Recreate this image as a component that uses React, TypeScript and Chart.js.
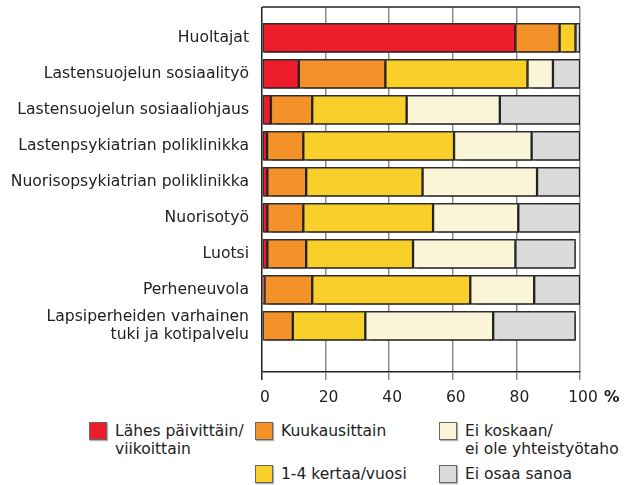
import React, { useEffect, useRef } from 'react';
import { Chart, registerables } from 'chart.js';

Chart.register(...registerables);

const CATEGORIES: (string | string[])[] = [
  'Huoltajat',
  'Lastensuojelun sosiaalityö',
  'Lastensuojelun sosiaaliohjaus',
  'Lastenpsykiatrian poliklinikka',
  'Nuorisopsykiatrian poliklinikka',
  'Nuorisotyö',
  'Luotsi',
  'Perheneuvola',
  ['Lapsiperheiden varhainen', 'tuki ja kotipalvelu'],
];

const WEEKLY = [79.7, 11.6, 2.8, 1.6, 1.7, 1.7, 1.7, 0.8, 0];
const MONTHLY = [13.9, 27.2, 13.0, 11.4, 12.2, 11.3, 12.2, 15.0, 9.7];
const YEARLY = [5.0, 44.7, 29.7, 47.4, 36.6, 40.8, 33.6, 49.7, 22.8];
const NEVER = [0, 8.0, 29.3, 24.4, 36.0, 26.8, 32.2, 20.1, 40.2];
const DONT_KNOW = [1.4, 8.5, 25.2, 15.2, 13.5, 19.4, 18.9, 14.4, 25.9];

const X_TICKS = [0, 20, 40, 60, 80, 100];

const SERIES = [
  { name: ['Lähes päivittäin/', 'viikoittain'], data: WEEKLY, color: '#EC1C2A' },
  { name: ['Kuukausittain'], data: MONTHLY, color: '#F4922A' },
  { name: ['1-4 kertaa/vuosi'], data: YEARLY, color: '#F9D02A' },
  { name: ['Ei koskaan/', 'ei ole yhteistyötaho'], data: NEVER, color: '#FAF5D7' },
  { name: ['Ei osaa sanoa'], data: DONT_KNOW, color: '#DBDBDB' },
];

// legend placement (series index -> box position)
const LEGEND_POS = [
  { left: 89, top: 422 },
  { left: 255, top: 422 },
  { left: 255, top: 465 },
  { left: 439, top: 422 },
  { left: 439, top: 465 },
];

const FONT = "'DejaVu Sans', Verdana, sans-serif";

const shadowPlugin = {
  id: 'barShadow',
  beforeDatasetsDraw(chart: any) {
    const c = chart.ctx;
    c.save();
    c.shadowColor = 'rgba(0,0,0,0.35)';
    c.shadowOffsetX = 1.5;
    c.shadowOffsetY = 1.5;
    c.shadowBlur = 1;
  },
  afterDatasetsDraw(chart: any) {
    chart.ctx.restore();
  },
};

const framePlugin = {
  id: 'frameAndUnit',
  afterDraw(chart: any) {
    const c = chart.ctx;
    const a = chart.chartArea;
    const xs = chart.scales.x;
    c.save();
    c.strokeStyle = '#222';
    c.lineWidth = 1.5;
    c.beginPath();
    c.moveTo(a.left, a.top);
    c.lineTo(a.right, a.top);
    c.stroke();
    c.fillStyle = '#222';
    c.font = `bold 15.5px ${FONT}`;
    c.textAlign = 'left';
    c.textBaseline = 'middle';
    c.fillText('%', xs.getPixelForValue(100) + 24, xs.top + 26);
    c.restore();
  },
};

export default function App() {
  const ref = useRef<HTMLCanvasElement>(null);

  useEffect(() => {
    if (!ref.current) return;
    const chart = new Chart(ref.current, {
      type: 'bar',
      data: {
        datasets: SERIES.map((s) => ({
          label: s.name.join(' '),
          data: s.data.map((v, i) => ({ x: v, y: i })),
          backgroundColor: s.color,
          borderColor: '#2e2e2e',
          borderWidth: 1.5,
          borderSkipped: false,
          barThickness: 29,
        })),
      },
      options: {
        indexAxis: 'y',
        animation: false,
        responsive: false,
        devicePixelRatio: 1,
        layout: { padding: { top: 7, right: 50, left: 0, bottom: 0 } },
        plugins: {
          legend: { display: false },
          tooltip: { enabled: false },
        },
        scales: {
          x: {
            type: 'linear',
            stacked: true,
            min: 0,
            max: 100,
            bounds: 'data',
            afterBuildTicks: (s: any) => {
              s.ticks = X_TICKS.map((v) => ({ value: v }));
            },
            afterFit: (s: any) => {
              s.height = 38;
            },
            ticks: {
              font: { family: FONT, size: 15.5 },
              color: '#222',
              padding: 9,
              labelOffset: 3,
            },
            grid: {
              color: (ctx: any) => (ctx.tick && ctx.tick.value === 0 ? '#222' : '#8c8c8c'),
              tickColor: (ctx: any) => (ctx.tick && ctx.tick.value === 0 ? '#222' : '#8c8c8c'),
              lineWidth: 1.5,
              tickLength: 8,
            },
            border: { display: true, color: '#222', width: 1.5 },
          },
          y: {
            type: 'linear',
            stacked: true,
            reverse: true,
            offset: false,
            bounds: 'data',
            min: -0.856,
            max: 9.283,
            afterBuildTicks: (s: any) => {
              s.ticks = CATEGORIES.map((_, i) => ({ value: i }));
            },
            afterFit: (s: any) => {
              s.width = 262;
              s.paddingTop = 0;
              s.paddingBottom = 0;
            },
            ticks: {
              autoSkip: false,
              font: { family: FONT, size: 15.6, lineHeight: 1.15 },
              color: '#222',
              padding: 13,
              callback: (v: any) => CATEGORIES[v as number],
            },
            grid: { display: false, drawTicks: false, offset: false },
            border: { display: false },
          },
        },
      },
      plugins: [shadowPlugin, framePlugin],
    } as any);
    return () => chart.destroy();
  }, []);

  return (
    <div
      style={{
        position: 'absolute',
        left: 0,
        top: 0,
        width: 630,
        height: 485,
        background: '#fff',
        fontFamily: FONT,
        color: '#222',
      }}
    >
      <canvas ref={ref} width={630} height={410} style={{ display: 'block', width: 630, height: 410 }} />
      {SERIES.map((s, i) => (
        <React.Fragment key={i}>
          <div
            style={{
              position: 'absolute',
              left: LEGEND_POS[i].left,
              top: LEGEND_POS[i].top,
              width: 16,
              height: 16,
              background: s.color,
              border: '1px solid #666',
              boxShadow: '1px 1px 1px rgba(0,0,0,0.3)',
            }}
          />
          <div
            style={{
              position: 'absolute',
              left: LEGEND_POS[i].left + 26,
              top: LEGEND_POS[i].top + 0,
              fontSize: 15.5,
              lineHeight: '18px',
              whiteSpace: 'nowrap',
            }}
          >
            {s.name.map((line, j) => (
              <div key={j}>{line}</div>
            ))}
          </div>
        </React.Fragment>
      ))}
    </div>
  );
}
